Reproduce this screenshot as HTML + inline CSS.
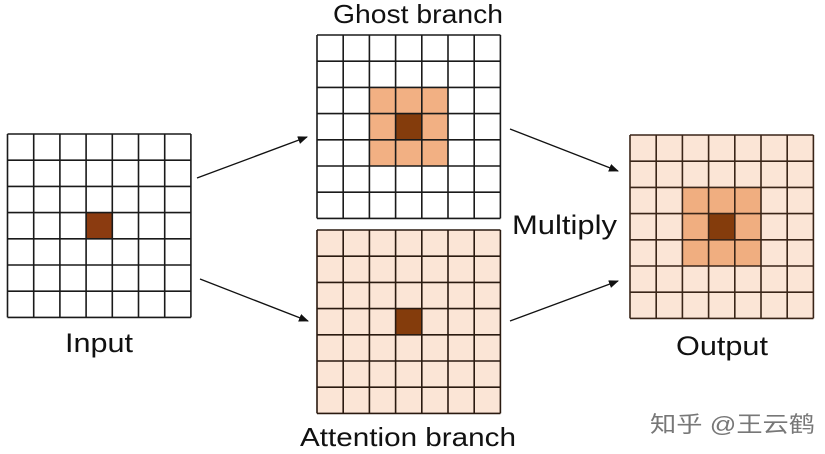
<!DOCTYPE html>
<html><head><meta charset="utf-8"><style>
html,body{margin:0;padding:0;background:#fff;width:825px;height:454px;overflow:hidden}
svg{display:block}
text{font-family:"Liberation Sans","Noto Sans CJK SC",sans-serif;fill:#111}
</style></head><body>
<svg width="825" height="454" viewBox="0 0 825 454" xmlns="http://www.w3.org/2000/svg">
<defs>
<g id="grid" fill="none" stroke-width="1.6">
<path d="M0 0H183.4M0 26.2H183.4M0 52.4H183.4M0 78.6H183.4M0 104.8H183.4M0 131H183.4M0 157.2H183.4M0 183.4H183.4M0 0V183.4M26.2 0V183.4M52.4 0V183.4M78.6 0V183.4M104.8 0V183.4M131 0V183.4M157.2 0V183.4M183.4 0V183.4"/>
</g>
<marker id="ah" markerWidth="10" markerHeight="8" refX="9" refY="4" orient="auto" markerUnits="userSpaceOnUse"><path d="M0 0L10 4L0 8z" fill="#111"/></marker>
</defs>
<g transform="translate(7.5,134)">
<rect x="78.6" y="78.6" width="26.2" height="26.2" fill="#8b3b10"/>
<use href="#grid" stroke="#1a1a1a"/>
</g>
<g transform="translate(317,35)">
<rect x="52.4" y="52.4" width="78.6" height="78.6" fill="#f2b083"/>
<rect x="78.6" y="78.6" width="26.2" height="26.2" fill="#843c0c"/>
<use href="#grid" stroke="#1a1a1a"/>
</g>
<g transform="translate(317,230)">
<rect width="183.4" height="183.4" fill="#fbe5d6"/>
<rect x="78.6" y="78.6" width="26.2" height="26.2" fill="#843c0c"/>
<use href="#grid" stroke="#2a1a10"/>
</g>
<g transform="translate(630,135)">
<rect width="183.4" height="183.4" fill="#fbe5d6"/>
<rect x="52.4" y="52.4" width="78.6" height="78.6" fill="#f0ae80"/>
<rect x="78.6" y="78.6" width="26.2" height="26.2" fill="#843c0c"/>
<use href="#grid" stroke="#3a2518"/>
</g>
<g stroke="#111" stroke-width="1.3" marker-end="url(#ah)">
<line x1="197" y1="178" x2="307" y2="137"/>
<line x1="200" y1="279" x2="308" y2="321"/>
<line x1="510" y1="129" x2="618" y2="171"/>
<line x1="510" y1="321" x2="618" y2="281"/>
</g>
<text x="333" y="23" font-size="26" textLength="170" lengthAdjust="spacingAndGlyphs">Ghost branch</text>
<text x="65" y="352" font-size="27" textLength="68" lengthAdjust="spacingAndGlyphs">Input</text>
<text x="676" y="355" font-size="27" textLength="92" lengthAdjust="spacingAndGlyphs">Output</text>
<text x="300" y="446" font-size="26" textLength="216" lengthAdjust="spacingAndGlyphs">Attention branch</text>
<text x="512" y="234" font-size="27" textLength="105" lengthAdjust="spacingAndGlyphs">Multiply</text>
<text x="650" y="432" font-size="22" textLength="165" lengthAdjust="spacingAndGlyphs" style="fill:#777">知乎 @王云鹤</text>
</svg>
</body></html>
